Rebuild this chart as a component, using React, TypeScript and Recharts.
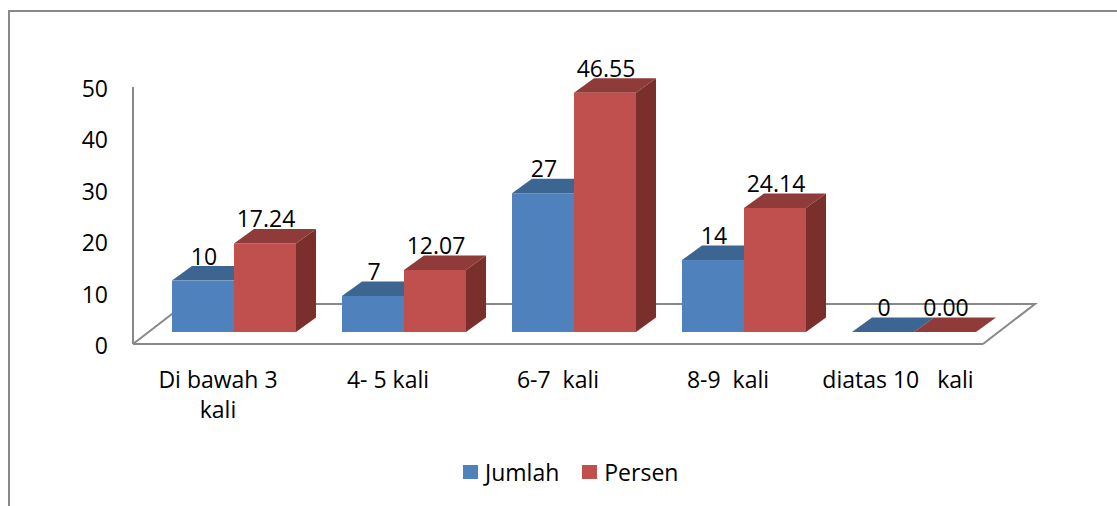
import React from 'react';
import { BarChart, Bar, XAxis, YAxis, Legend, Customized } from 'recharts';

// categories and values
const categories = ['Di bawah 3\nkali', '4- 5 kali', '6-7  kali', '8-9  kali', 'diatas 10   kali'];
const jumlah = [10, 7, 27, 14, 0];
const persen = [17.24, 12.07, 46.55, 24.14, 0.0];
const yTicks = [0, 10, 20, 30, 40, 50];
const seriesNames = ['Jumlah', 'Persen'];

const data = categories.map((name, i) => ({ name, jumlah: jumlah[i], persen: persen[i] }));

// layout
const W = 1117;
const H = 506;
const PLOT_LEFT = 133;
const PLOT_TOP = 87;
const PLOT_RIGHT = 983;
const PLOT_BOTTOM = 344;
const FLOOR_DX = 52;
const FLOOR_DY = 40;
const SHIFT_X = 16; // bars stand a bit behind the front edge of the floor
const SHIFT_Y = 12;
const DEPTH_X = 20;
const DEPTH_Y = 14.5;
const GRAY = '#898989';
const FONT = '"Open Sans", sans-serif';
const FS = 23;

const COLORS: Record<string, { front: string; top: string; side: string }> = {
  jumlah: { front: '#4F81BD', top: '#3C6591', side: '#36597F' },
  persen: { front: '#C0504D', top: '#8E3B39', side: '#7A2F2D' },
};

const makeBox = (key: string) => (props: any) => {
  const { x, y, width, height } = props;
  const c = COLORS[key];
  const h = Math.max(0, height || 0);
  const x0 = x + SHIFT_X;
  const y0 = y - SHIFT_Y;
  const top = `M${x0},${y0} L${x0 + width},${y0} L${x0 + width + DEPTH_X},${y0 - DEPTH_Y} L${x0 + DEPTH_X},${y0 - DEPTH_Y} Z`;
  const side = `M${x0 + width},${y0} L${x0 + width + DEPTH_X},${y0 - DEPTH_Y} L${x0 + width + DEPTH_X},${y0 + h - DEPTH_Y} L${x0 + width},${y0 + h} Z`;
  return (
    <g>
      {h > 0 && <path d={side} fill={c.side} />}
      <path d={top} fill={c.top} />
      {h > 0 && <rect x={x0} y={y0} width={width} height={h} fill={c.front} />}
    </g>
  );
};

const makeLabel = (digits: number) => (props: any) => {
  const { x, y, width, value } = props;
  return (
    <text
      x={x + SHIFT_X + width / 2 + 1}
      y={y - SHIFT_Y - 25}
      textAnchor="middle"
      dominantBaseline="central"
      fontSize={FS}
      fill="#000"
    >
      {Number(value).toFixed(digits)}
    </text>
  );
};

const Floor = () => {
  const d = `M${PLOT_LEFT},${PLOT_BOTTOM} L${PLOT_LEFT + FLOOR_DX},${PLOT_BOTTOM - FLOOR_DY} L${PLOT_RIGHT + FLOOR_DX},${PLOT_BOTTOM - FLOOR_DY} L${PLOT_RIGHT},${PLOT_BOTTOM}`;
  return <path d={d} fill="none" stroke={GRAY} strokeWidth={2} />;
};

const XTick = (props: any) => {
  const { x, payload } = props;
  const lines = String(payload.value).split('\n');
  return (
    <text x={x} y={PLOT_BOTTOM + 44} textAnchor="middle" fontSize={FS} fill="#000" style={{ whiteSpace: 'pre' }}>
      {lines.map((l, i) => (
        <tspan key={i} x={x} dy={i === 0 ? 0 : 30}>
          {l}
        </tspan>
      ))}
    </text>
  );
};

const YTick = (props: any) => {
  const { y, payload } = props;
  return (
    <text x={PLOT_LEFT - 25} y={y + 1} textAnchor="end" dominantBaseline="central" fontSize={FS} fill="#000">
      {payload.value}
    </text>
  );
};

const LegendContent = () => (
  <div style={{ display: 'flex', alignItems: 'center', fontFamily: FONT, fontSize: FS, height: 28, lineHeight: '28px' }}>
    {seriesNames.map((n, i) => (
      <div key={n} style={{ display: 'flex', alignItems: 'center', marginRight: i === 0 ? 23 : 0 }}>
        <span style={{ width: 15, height: 14, background: i === 0 ? COLORS.jumlah.front : COLORS.persen.front, marginRight: 7 }} />
        <span style={{ color: '#000' }}>{n}</span>
      </div>
    ))}
  </div>
);

export default function App() {
  return (
    <div style={{ position: 'absolute', left: 0, top: 0, width: W, height: H, background: '#fff', fontFamily: FONT }}>
      <div
        style={{
          position: 'absolute',
          left: 8,
          top: 10,
          width: W - 8,
          height: H - 10,
          borderLeft: `2px solid ${GRAY}`,
          borderTop: `2px solid ${GRAY}`,
          boxSizing: 'border-box',
        }}
      />
      <BarChart
        width={W}
        height={H}
        data={data}
        margin={{ top: PLOT_TOP, right: W - PLOT_RIGHT, left: 0, bottom: H - PLOT_BOTTOM - 60 }}
        barCategoryGap={23}
        barGap={0}
        style={{ position: 'absolute', left: 0, top: 0, fontFamily: FONT }}
      >
        <Customized component={<Floor />} />
        <XAxis
          dataKey="name"
          height={60}
          axisLine={{ stroke: GRAY, strokeWidth: 2 }}
          tickLine={false}
          tick={<XTick />}
          interval={0}
        />
        <YAxis
          width={PLOT_LEFT}
          domain={[0, 50]}
          ticks={yTicks}
          axisLine={{ stroke: GRAY, strokeWidth: 2 }}
          tickLine={false}
          tick={<YTick />}
        />
        <Bar dataKey="jumlah" name={seriesNames[0]} fill={COLORS.jumlah.front} shape={makeBox('jumlah')} label={makeLabel(0)} isAnimationActive={false} />
        <Bar dataKey="persen" name={seriesNames[1]} fill={COLORS.persen.front} shape={makeBox('persen')} label={makeLabel(2)} isAnimationActive={false} />
        <Legend
          layout="horizontal"
          verticalAlign="middle"
          align="center"
          content={<LegendContent />}
          wrapperStyle={{ position: 'absolute', left: 463, top: 458, bottom: 'auto', width: 240, height: 28 }}
        />
      </BarChart>
    </div>
  );
}
